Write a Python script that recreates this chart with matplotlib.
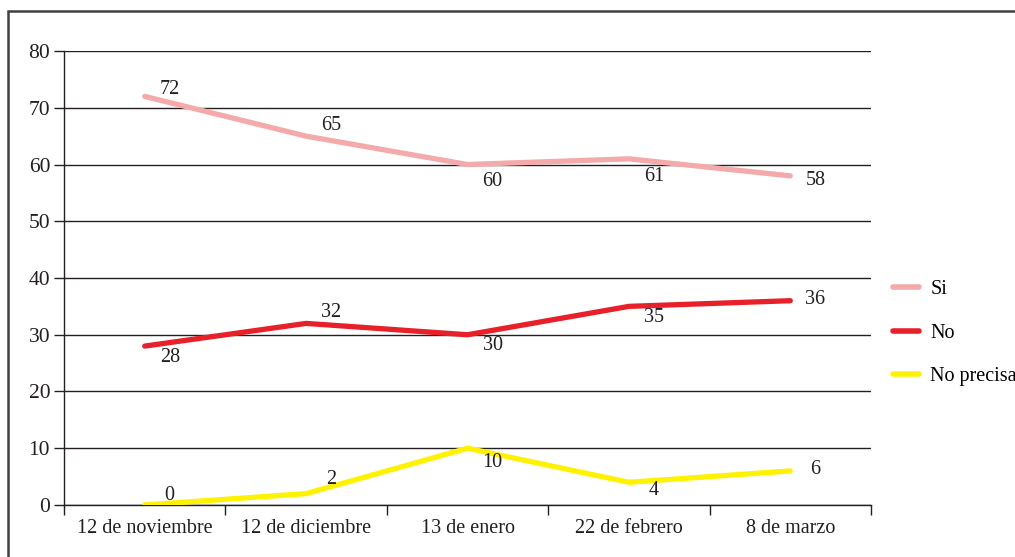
import matplotlib
matplotlib.use("Agg")
import matplotlib.pyplot as plt
from matplotlib.lines import Line2D
from matplotlib.patches import Rectangle

fechas = ["12 de noviembre", "12 de diciembre", "13 de enero", "22 de febrero", "8 de marzo"]
si = [72, 65, 60, 61, 58]
no = [28, 32, 30, 35, 36]
no_precisa = [0, 2, 10, 4, 6]

# label offsets in points (dx, dy) for each series
off_si = [(18, 5), (18, 8), (18, -12), (18, -13), (18, -3)]
off_no = [(18, -8), (18, 8), (18, -8), (18, -8), (18, 1)]
off_np = [(18, 7), (18, 10), (18, -10), (18, -6), (18, 1)]

plt.rcParams["font.family"] = ["Liberation Serif", "DejaVu Serif"]

fig = plt.figure(figsize=(10.15, 5.57), dpi=100)
ax = fig.add_axes([0.0631, 0.0934, 0.795, 0.815])

series = [
    ("Si", si, "#F4A9AA", off_si),
    ("No", no, "#E8202A", off_no),
    ("No precisa", no_precisa, "#FFF200", off_np),
]
x = list(range(len(fechas)))
for name, vals, color, offs in series:
    ax.plot(x, vals, color=color, lw=3.8, solid_capstyle="round", label=name, zorder=3)
    for xi, v, (dx, dy) in zip(x, vals, offs):
        ax.annotate(str(v), (xi, v), xytext=(dx, dy), textcoords="offset points",
                    ha="center", va="center", fontsize=14.5, color="#231f20", zorder=4)

ax.set_xlim(-0.5, len(fechas) - 0.5)
ax.set_ylim(0, 80)
ax.set_yticks(range(0, 81, 10))
ax.set_xticks(x)
ax.set_xticklabels(fechas)
ax.set_xticks([i - 0.5 for i in range(len(fechas) + 1)], minor=True)
ax.tick_params(axis="x", which="major", length=0, labelsize=14.5, pad=10, colors="#231f20")
ax.tick_params(axis="x", which="minor", length=7, width=1, direction="out", color="#231f20")
ax.tick_params(axis="y", length=7, width=1, labelsize=15.5, pad=3, colors="#231f20")

ax.grid(axis="y", color="#231f20", lw=1)
ax.set_axisbelow(True)
for s in ["top", "right"]:
    ax.spines[s].set_visible(False)
for s in ["left", "bottom"]:
    ax.spines[s].set_color("#231f20")
    ax.spines[s].set_linewidth(1)

handles = [Line2D([0], [0], color=c, lw=4, solid_capstyle="round") for _, _, c, _ in series]
fig.legend(handles, [n for n, _, _, _ in series], loc="center left",
           bbox_to_anchor=(0.862, 0.402), frameon=False, fontsize=14.5,
           handlelength=1.3, handletextpad=0.55, labelspacing=1.2)

# outer frame, running off the right and bottom edges
fig.patches.append(Rectangle((0.008, -0.1), 1.2, 1.08, transform=fig.transFigure,
                             fill=False, ec="#404040", lw=1.8))

fig.savefig("out.png", dpi=100)
